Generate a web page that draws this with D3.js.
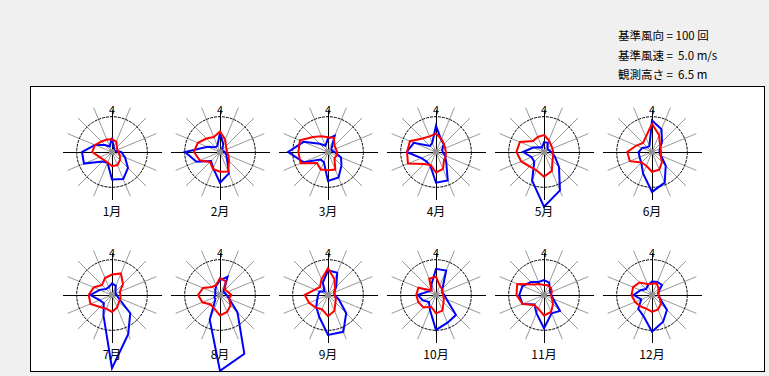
<!DOCTYPE html>
<html><head><meta charset="utf-8">
<script src="https://cdn.jsdelivr.net/npm/d3@7/dist/d3.min.js"></script>
<style>
html,body{margin:0;padding:0;background:#f0f0f0;}
svg{display:block;}
text{font-family:"Noto Sans CJK JP","DejaVu Sans",sans-serif;}
text.leg{white-space:pre;}
</style></head>
<body>
<script>
// Directions: N, NNE, NE, ENE, E, ESE, SE, SSE, S, SSW, SW, WSW, W, WNW, NW, NNW
const directions = ["N","NNE","NE","ENE","E","ESE","SE","SSE","S","SSW","SW","WSW","W","WNW","NW","NNW"];
const months = ["1月","2月","3月","4月","5月","6月","7月","8月","9月","10月","11月","12月"];
const northLabel = "4";
const legendLines = ["基準風向 = 100 回","基準風速 =  5.0 m/s","観測高さ =  6.5 m"];
const refFreq = 100;   // 回
const refSpeed = 5.0;  // m/s

// frequency (回) per direction, blue
const freqJan = [40,14,9,9,26,40,64,83,78,33,38,86,85,52,28,17];
const freqFeb = [55,24,9,8,14,19,28,66,87,50,36,72,99,38,19,19];
const freqMar = [38,50,14,11,19,40,54,78,82,31,30,75,113,75,33,19];
const freqApr = [74,38,31,19,19,28,41,87,87,42,38,45,83,68,24,28];
const freqMay = [28,28,14,14,21,33,60,118,155,88,39,38,59,33,19,14];
const freqJun = [89,70,40,24,21,28,55,94,113,66,43,38,38,30,19,19];
const freqJul = [33,28,14,11,14,19,73,120,207,63,33,38,61,38,24,24];
const freqAug = [42,56,14,14,19,28,70,180,215,76,19,17,14,14,19,28];
const freqSep = [70,68,33,19,19,33,73,113,113,66,47,33,28,26,14,38];
const freqOct = [74,75,26,19,24,33,80,85,99,45,28,40,52,25,19,33];
const freqNov = [42,38,24,19,21,28,64,56,94,56,38,66,70,66,52,40];
const freqDec = [38,40,40,19,19,24,60,82,104,64,55,33,52,35,24,30];

// mean wind speed (m/s) per direction, red
const speedJan = [1.8,1.6,1.0,0.8,0.9,1.2,1.6,2.0,2.0,1.6,1.6,1.9,2.8,2.6,2.1,1.9];
const speedFeb = [2.9,1.9,1.2,1.0,1.0,1.3,1.8,3.0,2.8,2.6,2.0,3.1,3.7,3.4,2.7,2.3];
const speedMar = [2.1,2.2,1.3,1.2,1.3,1.3,1.3,2.7,2.6,2.7,2.2,4.2,4.2,4.3,3.0,2.4];
const speedApr = [2.6,2.0,1.6,1.4,1.4,1.5,1.6,2.6,2.9,2.0,2.4,4.3,4.1,4.0,2.7,2.4];
const speedMay = [2.4,1.8,1.4,1.3,1.3,1.4,1.7,2.9,3.5,2.8,2.9,3.5,3.9,3.7,2.2,2.3];
const speedJun = [4.0,2.6,1.6,1.3,1.3,1.3,2.0,2.7,2.8,2.1,2.1,3.4,3.5,2.4,1.8,2.3];
const speedJul = [2.9,3.3,2.2,1.2,1.2,1.3,1.4,1.9,2.4,2.1,2.4,3.3,3.3,2.8,2.0,2.6];
const speedAug = [2.4,2.1,1.0,1.2,1.6,1.4,2.1,2.6,2.9,2.1,1.9,2.7,3.1,2.6,1.6,1.5];
const speedSep = [3.8,2.4,1.4,1.0,0.9,1.2,1.5,2.4,3.0,2.2,2.5,2.9,3.3,2.0,1.6,2.4];
const speedOct = [2.6,1.4,1.2,1.0,1.0,1.2,1.5,2.4,2.6,1.8,2.5,2.7,2.8,2.7,0.9,2.5];
const speedNov = [1.4,1.5,1.4,1.2,1.0,1.2,1.8,2.6,2.9,2.1,2.0,3.3,3.9,4.1,2.1,1.7];
const speedDec = [1.6,1.8,1.3,1.0,0.9,1.2,1.8,2.2,2.4,2.1,2.3,2.6,2.9,2.9,2.5,1.7];

const freqs = [freqJan,freqFeb,freqMar,freqApr,freqMay,freqJun,freqJul,freqAug,freqSep,freqOct,freqNov,freqDec];
const speeds = [speedJan,speedFeb,speedMar,speedApr,speedMay,speedJun,speedJul,speedAug,speedSep,speedOct,speedNov,speedDec];

const W = 769, H = 376;
const svg = d3.select("body").append("svg").attr("width", W).attr("height", H);

// legend text
svg.selectAll("text.leg").data(legendLines).enter().append("text")
  .attr("class","leg").attr("x", 618).attr("y", (d,i)=>40 + i*19.5)
  .attr("xml:space","preserve")
  .attr("font-size", 11.5).attr("fill","#000").text(d=>d);

// frame
svg.append("rect").attr("x",30.5).attr("y",86.5).attr("width",734).attr("height",285)
  .attr("fill","#fff").attr("stroke","#000").attr("stroke-width",1);

const R = 35.3;
const rFreq = d3.scaleLinear().domain([0, refFreq]).range([0, R]);
const rSpeed = d3.scaleLinear().domain([0, refSpeed]).range([0, R]);
const angStep = 2*Math.PI/directions.length;
const angOf = i => i*angStep;

const colX = d3.scalePoint().domain(d3.range(6)).range([112, 652]);
const rowY = d3.scalePoint().domain([0,1]).range([152, 295]);

months.forEach((m, k) => {
  const cx = colX(k % 6), cy = rowY(Math.floor(k / 6));
  const g = svg.append("g").attr("transform", `translate(${cx},${cy})`);
  // spokes
  directions.forEach((d, i) => {
    if (i % 4 === 0) return;
    const a = angOf(i);
    g.append("line").attr("x1",0).attr("y1",0)
      .attr("x2", 48*Math.sin(a)).attr("y2", -48*Math.cos(a))
      .attr("stroke","#999").attr("stroke-width",1);
  });
  // axes
  g.append("line").attr("x1",-49).attr("x2",50).attr("y1",0.5).attr("y2",0.5).attr("stroke","#000");
  g.append("line").attr("x1",0.5).attr("x2",0.5).attr("y1",-42).attr("y2",48).attr("stroke","#000");
  // reference circle
  g.append("circle").attr("r",R).attr("fill","none").attr("stroke","#000")
    .attr("stroke-width",1).attr("stroke-dasharray","3,1");
  // north label
  g.append("text").attr("x",0).attr("y",-38).attr("text-anchor","middle")
    .attr("font-size",11).attr("fill","#000").text(northLabel);
  const lineF = d3.lineRadial().angle((d,i)=>angOf(i)).radius(d=>rFreq(d)).curve(d3.curveLinearClosed);
  const lineS = d3.lineRadial().angle((d,i)=>angOf(i)).radius(d=>rSpeed(d)).curve(d3.curveLinearClosed);
  g.append("path").attr("d", lineF(freqs[k])).attr("fill","none").attr("stroke","#0000ff").attr("stroke-width",2);
  g.append("path").attr("d", lineS(speeds[k])).attr("fill","none").attr("stroke","#ff0000").attr("stroke-width",2);
  // center dot
  g.append("circle").attr("r",3).attr("fill","#909090");
  // month label
  g.append("text").attr("x",0).attr("y",64).attr("text-anchor","middle")
    .attr("font-size",12).attr("fill","#000").text(m);
});
</script>
</body></html>
